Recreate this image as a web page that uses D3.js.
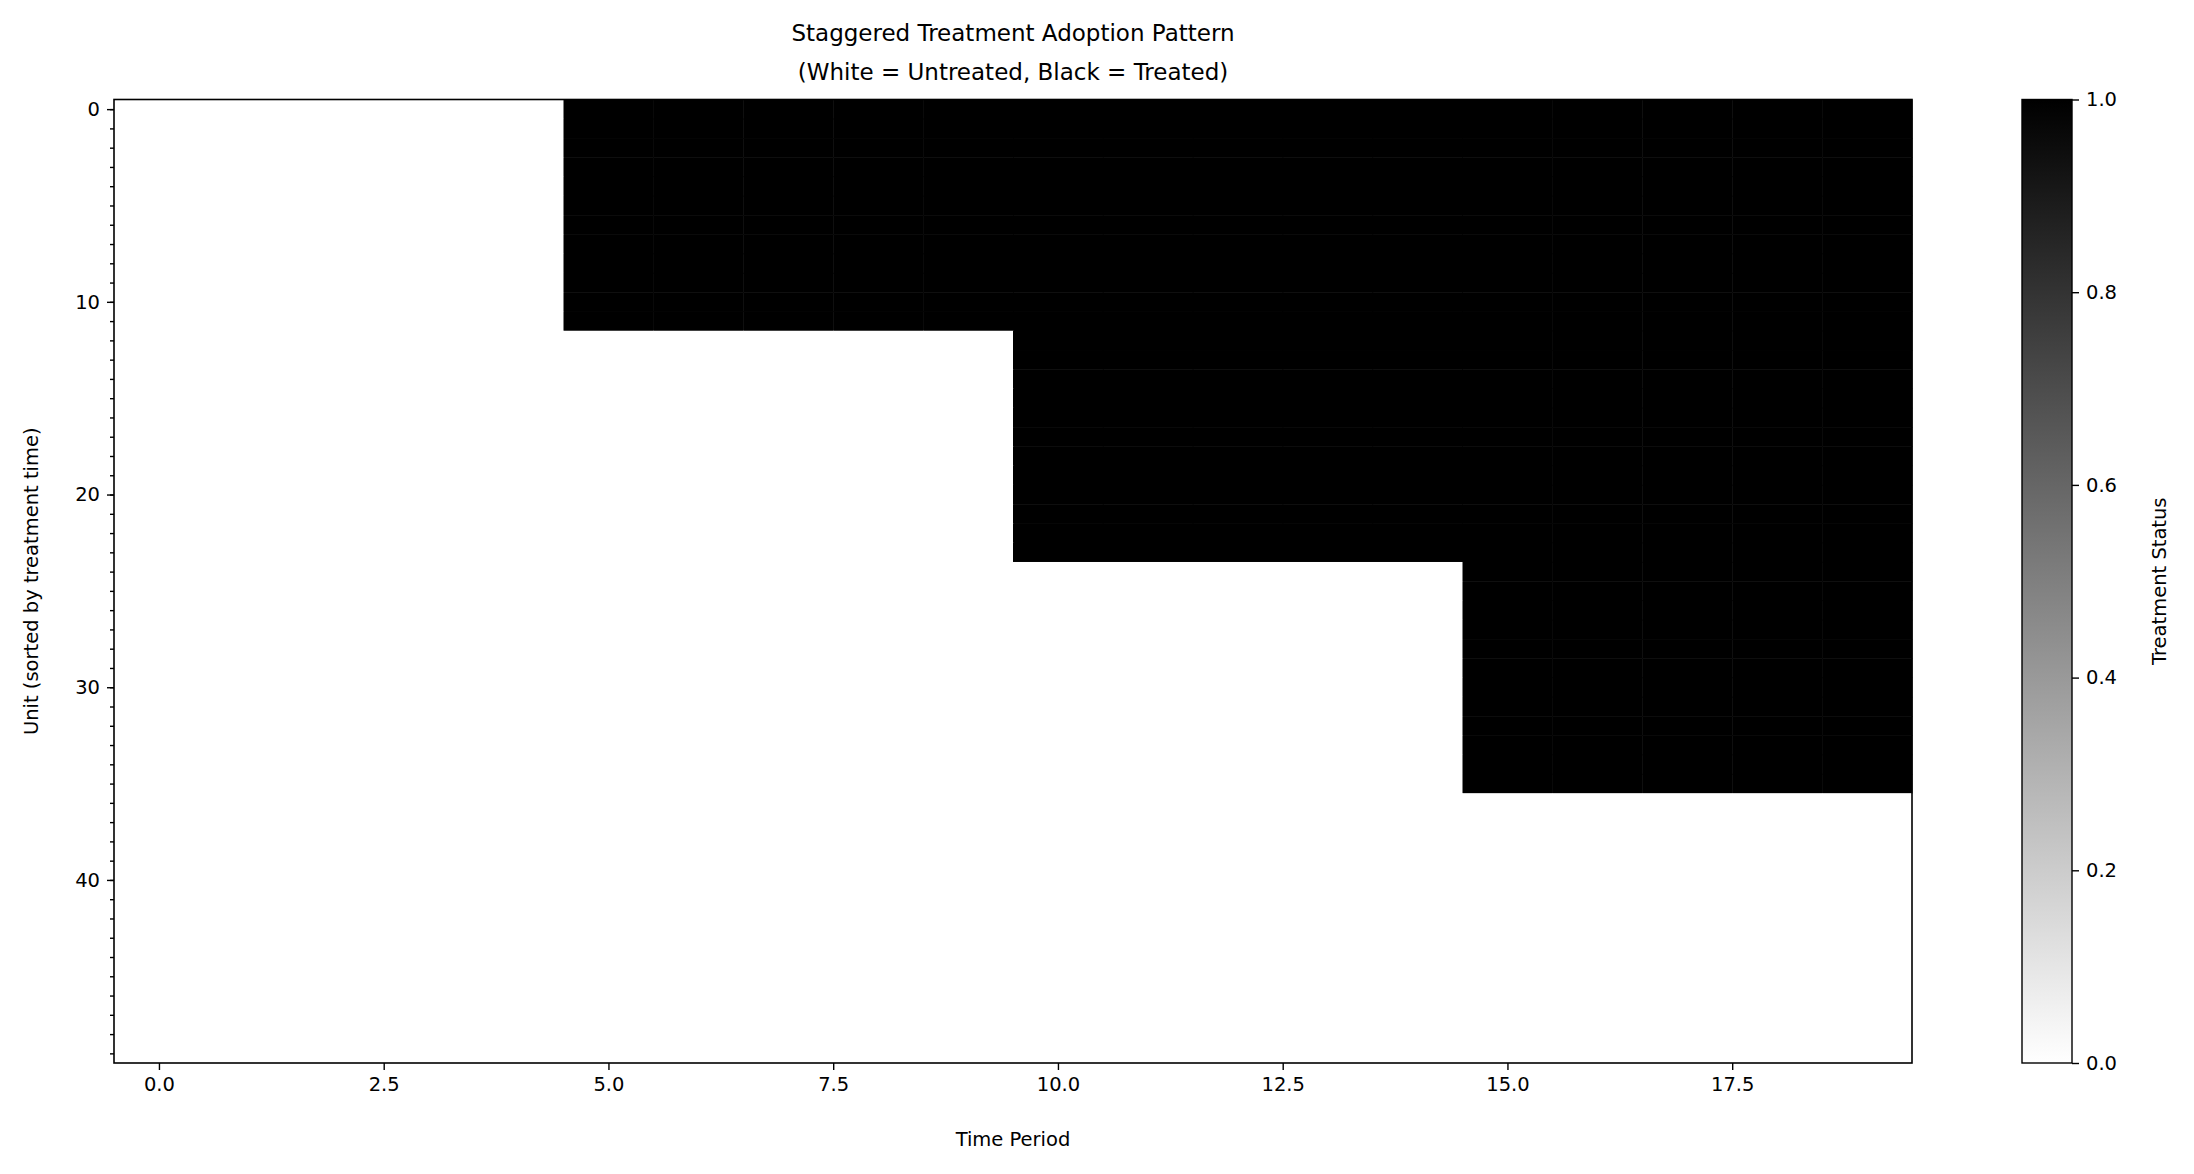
<!DOCTYPE html>
<html><head><meta charset="utf-8">
<script src="https://cdn.jsdelivr.net/npm/d3@7"></script>
<style>body{margin:0;background:#fff}text{font-family:"DejaVu Sans",sans-serif;fill:#000}</style>
</head><body><svg id="c" width="2194" height="1174"></svg>
<script>
const nUnits = 50;
const nPeriods = 20;
const groupSizes = [12, 12, 12, 14];
const groupAdoption = [5, 10, 15, null];
const xTicks = [0, 2.5, 5, 7.5, 10, 12.5, 15, 17.5];
const yTicks = [0, 10, 20, 30, 40];
const cbTicks = [0, 0.2, 0.4, 0.6, 0.8, 1.0];

const cells = [];
let u = 0;
groupSizes.forEach((s, g) => {
  for (let i = 0; i < s; i++, u++) {
    for (let t = 0; t < nPeriods; t++) {
      const a = groupAdoption[g];
      cells.push({u, t, v: a !== null && t >= a ? 1 : 0});
    }
  }
});

const svg = d3.select("#c");
const L = 114, R = 1912, T = 99.5, B = 1063;
const x = d3.scaleLinear().domain([-0.5, nPeriods - 0.5]).range([L, R]);
const y = d3.scaleLinear().domain([-0.5, nUnits - 0.5]).range([T, B]);
const color = d3.scaleLinear().domain([0, 1]).range(["#ffffff", "#000000"]);

svg.append("g").selectAll("rect").data(cells).join("rect")
  .attr("x", d => x(d.t - 0.5)).attr("y", d => y(d.u - 0.5))
  .attr("width", x(1) - x(0) + 0.5).attr("height", y(1) - y(0) + 0.5)
  .attr("fill", d => color(d.v));

svg.append("rect").attr("x", L).attr("y", T).attr("width", R - L).attr("height", B - T)
  .attr("fill", "none").attr("stroke", "#000").attr("stroke-width", 1.6);

const fs = "19.5px";
const xa = svg.append("g").attr("transform", `translate(0,${B})`)
  .call(d3.axisBottom(x).tickValues(xTicks).tickFormat(d3.format(".1f")).tickSize(7).tickPadding(7));
const ya = svg.append("g").attr("transform", `translate(${L},0)`)
  .call(d3.axisLeft(y).tickValues(yTicks).tickFormat(d3.format("d")).tickSize(7).tickPadding(7));
svg.append("g").attr("transform", `translate(${L},0)`)
  .call(d3.axisLeft(y).tickValues(d3.range(0, nUnits)).tickFormat("").tickSize(4));
svg.selectAll(".domain").remove();
svg.selectAll(".tick line").attr("stroke", "#000").attr("stroke-width", 1.4);
svg.selectAll(".tick text").style("font-size", fs).attr("font-family", "DejaVu Sans");

svg.append("text").attr("x", (L + R) / 2).attr("y", 41).attr("text-anchor", "middle")
  .style("font-size", "23px").text("Staggered Treatment Adoption Pattern");
svg.append("text").attr("x", (L + R) / 2).attr("y", 80).attr("text-anchor", "middle")
  .style("font-size", "23px").text("(White = Untreated, Black = Treated)");
svg.append("text").attr("x", (L + R) / 2).attr("y", 1146).attr("text-anchor", "middle")
  .style("font-size", fs).text("Time Period");
svg.append("text").attr("transform", `translate(38,${(T + B) / 2}) rotate(-90)`).attr("text-anchor", "middle")
  .style("font-size", fs).text("Unit (sorted by treatment time)");

// colorbar
const cbL = 2022, cbW = 50;
const defs = svg.append("defs");
const grad = defs.append("linearGradient").attr("id", "cg").attr("x1", 0).attr("y1", 1).attr("x2", 0).attr("y2", 0);
grad.append("stop").attr("offset", "0%").attr("stop-color", color(0));
grad.append("stop").attr("offset", "100%").attr("stop-color", color(1));
svg.append("rect").attr("x", cbL).attr("y", T).attr("width", cbW).attr("height", B - T)
  .attr("fill", "url(#cg)").attr("stroke", "#000").attr("stroke-width", 1.4);
const cy = d3.scaleLinear().domain([0, 1]).range([B, T]);
const cba = svg.append("g").attr("transform", `translate(${cbL + cbW},0)`)
  .call(d3.axisRight(cy).tickValues(cbTicks).tickFormat(d3.format(".1f")).tickSize(7).tickPadding(7));
cba.select(".domain").remove();
cba.selectAll(".tick line").attr("stroke", "#000").attr("stroke-width", 1.4);
cba.selectAll(".tick text").style("font-size", fs);
svg.append("text").attr("transform", `translate(2166,${(T + B) / 2}) rotate(-90)`).attr("text-anchor", "middle")
  .style("font-size", fs).text("Treatment Status");
</script></body></html>
